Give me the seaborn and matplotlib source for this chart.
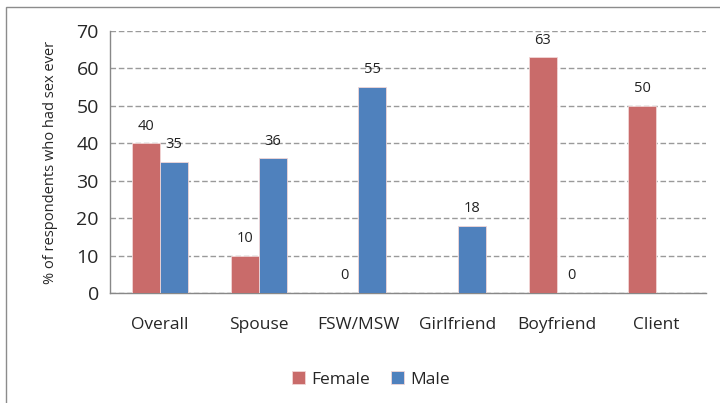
import numpy as np
import pandas as pd
import matplotlib
matplotlib.use("Agg")
import matplotlib.pyplot as plt
import seaborn as sns

# values
categories = ["Overall", "Spouse", "FSW/MSW", "Girlfriend", "Boyfriend", "Client"]
female = [40, 10, 0, np.nan, 63, 50]
male = [35, 36, 55, 18, 0, np.nan]
groups = ["Female", "Male"]
palette = {"Female": "#C96B6A", "Male": "#4F81BD"}

df = pd.DataFrame({
    "category": categories * 2,
    "group": ["Female"] * len(categories) + ["Male"] * len(categories),
    "value": female + male,
})

sns.set_style("white")
plt.rcParams["font.family"] = ["Open Sans", "DejaVu Sans"]

fig = plt.figure(figsize=(7.2, 4.03), dpi=100)
# chart frame like the Excel chart area
fig.patches.append(plt.Rectangle((6 / 720, -0.1), 1.2, 1 - 7 / 403 + 0.1,
                                 transform=fig.transFigure, fill=False,
                                 edgecolor="#8C8C8C", linewidth=1))
ax = fig.add_axes([0.1528, 0.273, 0.8278, 0.650])

sns.barplot(data=df, x="category", y="value", hue="group", hue_order=groups,
            order=categories, palette=palette, saturation=1, width=0.565, ax=ax,
            edgecolor="#F2D6D6", linewidth=0.6, legend=True, zorder=3)

# data labels, only on bars that exist
for cont in ax.containers:
    for bar in cont:
        if bar is None:
            continue
        h = bar.get_height()
        if np.isnan(h):
            continue
        ax.annotate(f"{h:.0f}", (bar.get_x() + bar.get_width() / 2, h),
                    xytext=(0, 7), textcoords="offset points",
                    ha="center", va="bottom", fontsize=10.5, color="#222222")

ax.set_ylim(0, 70)
ax.set_yticks(range(0, 71, 10))
ax.set_xlim(-0.5, len(categories) - 0.5)
ax.grid(axis="y", linestyle=(0, (4, 2)), color="#9A9A9A", linewidth=1, zorder=0)
ax.set_axisbelow(True)

for s in ["top", "right"]:
    ax.spines[s].set_visible(False)
for s in ["left", "bottom"]:
    ax.spines[s].set_color("#888888")
    ax.spines[s].set_linewidth(1)

ax.tick_params(axis="x", which="major", length=0, pad=17, labelsize=12.5)
ax.set_xticks(np.arange(-0.5, len(categories), 1), minor=True)
ax.tick_params(axis="x", which="minor", length=5, color="#888888", direction="out")
ax.tick_params(axis="y", length=5, color="#888888", labelsize=14, pad=3)

ax.set_xlabel("")
ax.set_ylabel("% of respondents who had sex ever", fontsize=10.5, labelpad=13)

handles, lbls = ax.get_legend_handles_labels()
ax.legend(handles, lbls, loc="center", bbox_to_anchor=(0.5 - 0.062, -0.33),
          ncol=2, frameon=False, fontsize=12.5, handlelength=0.75,
          handleheight=0.75, handletextpad=0.35, columnspacing=1.2)

fig.savefig("out.png", dpi=100)
